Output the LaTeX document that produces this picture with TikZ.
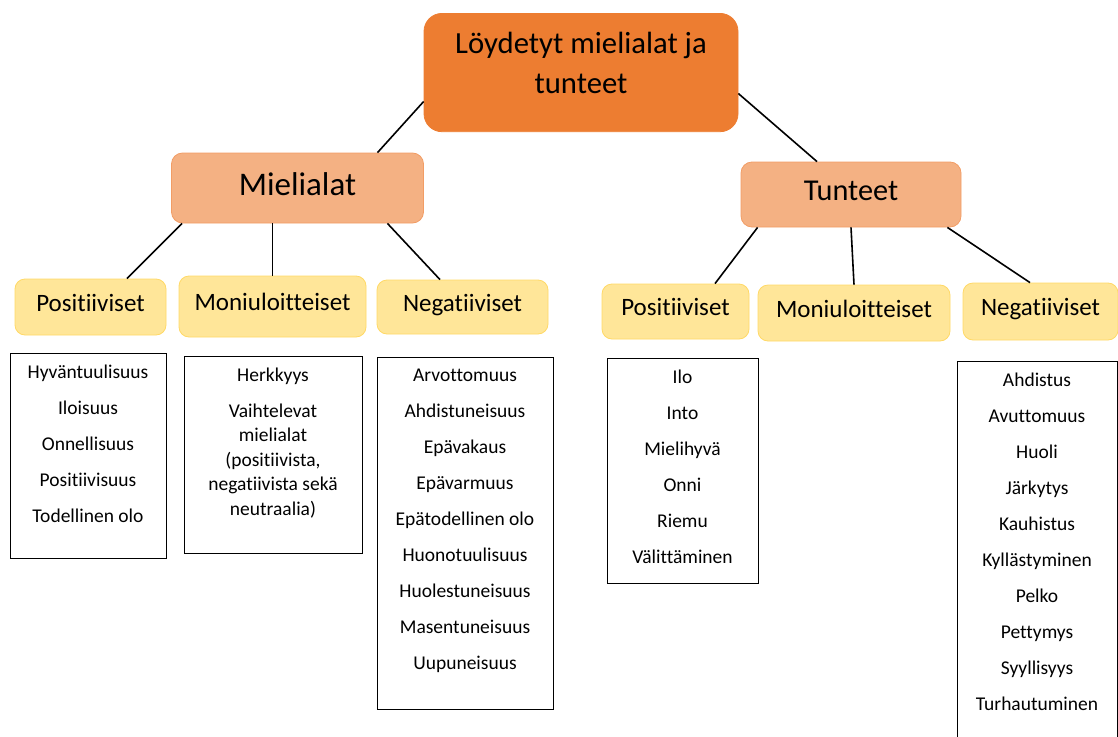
\documentclass[tikz,border=0pt]{standalone}
\usepackage{fontspec}
\setmainfont{Carlito}[Ligatures={NoCommon,NoContextual},Contextuals=NoAlternate]
\usepackage{xcolor}
\usepackage{tikz}
\usetikzlibrary{positioning}
\definecolor{rootorange}{HTML}{ED7D31}
\definecolor{midorange}{HTML}{F4B183}
\definecolor{paleyellow}{HTML}{FFE699}
\definecolor{edgeyellow}{HTML}{FFD966}
\tikzset{
  rootbox/.style ={rounded corners=18pt,draw=rootorange,fill=rootorange,line width=0.8pt,
                   align=center,inner xsep=0pt,inner ysep=19pt},
  midbox/.style  ={rounded corners=11pt,draw=rootorange!75,fill=midorange,line width=0.8pt,
                   inner sep=0pt},
  kindbox/.style ={rounded corners=10pt,draw=edgeyellow,fill=paleyellow,line width=0.8pt,
                   inner sep=0pt,text height=15pt,text depth=7pt,font=\fontsize{25}{30}\selectfont},
  listbox/.style ={draw=black,line width=0.9pt,inner sep=0pt},
  listtext/.style={anchor=north,yshift=-11pt,inner sep=0pt,align=center,
                   font=\fontsize{19.5}{36}\selectfont},
  link/.style    ={line width=1.6pt,draw=black}
}
\begin{document}
\begin{tikzpicture}[x=1pt,y=-1pt]
    \clip (0,0) rectangle (1118,736);
    \node[rootbox,minimum width=314pt,anchor=north,font=\fontsize{30.7}{40}\selectfont] (root) at (581,13)
      {Löydetyt mielialat ja\\tunteet\rule[-19pt]{0pt}{0pt}};
    \node[midbox,minimum width=252pt,minimum height=70pt,text height=20pt,text depth=6pt,
          font=\fontsize{33}{40}\selectfont] (miel) at (297.5,188) {Mielialat};
    \node[midbox,minimum width=220pt,minimum height=65pt,text height=18pt,text depth=7pt,
          font=\fontsize{30.3}{36}\selectfont] (tunt) at (851,194.5) {Tunteet};
    % mielialat
    \node[kindbox,minimum width=151pt,minimum height=56pt] (mpos) at (90.5,307) {Positiiviset};
    \node[kindbox,minimum width=187pt,minimum height=61pt] (mmon) at (272.5,306.5) {Moniuloitteiset};
    \node[kindbox,minimum width=171pt,minimum height=54pt] (mneg) at (462.5,307) {Negatiiviset};
    % tunteet
    \node[kindbox,minimum width=147pt,minimum height=55pt] (tpos) at (675.5,311.5) {Positiiviset};
    \node[kindbox,minimum width=192pt,minimum height=56pt] (tmon) at (854,313) {Moniuloitteiset};
    \node[kindbox,minimum width=155pt,minimum height=57pt] (tneg) at (1040.5,311.5) {Negatiiviset};
    \draw[link] ([yshift=-29pt]root.west) -- ([xshift=80pt]miel.north);
    \draw[link] ([yshift=-21pt]root.east) -- ([xshift=-34pt]tunt.north);
    \draw[link] ([xshift=11pt]miel.south west) -- ([xshift=36.5pt]mpos.north);
    \draw[link] (mmon.north |- miel.south) -- (mmon.north);
    \draw[link] ([xshift=-36.5pt]miel.south east) -- ([xshift=-22.5pt]mneg.north);
    \draw[link] ([xshift=17pt]tunt.south west) -- ([xshift=39.5pt]tpos.north);
    \draw[link] (tunt.south) -- (tmon.north);
    \draw[link] ([xshift=-14pt]tunt.south east) -- ([xshift=-10.5pt]tneg.north);
    % lists
    \node[listbox,minimum width=156pt,minimum height=205pt,below=18pt of mpos,xshift=-2.5pt,
          label={[listtext]north:{Hyväntuulisuus\\Iloisuus\\Onnellisuus\\Positiivisuus\\Todellinen olo}}] (mposl) {};
    \node[listbox,minimum width=178pt,minimum height=197pt,below=19pt of mmon,xshift=0.5pt,
          label={[listtext]north:{Herkkyys\\Vaihtelevat\\[-11.5pt]mielialat\\[-11.5pt](positiivista,\\[-11.5pt]negatiivista sekä\\[-11.5pt]neutraalia)}}] (mmonl) {};
    \node[listbox,minimum width=176pt,minimum height=352pt,below=23pt of mneg,xshift=2.5pt,
          label={[listtext]north:{Arvottomuus\\Ahdistuneisuus\\Epävakaus\\Epävarmuus\\Epätodellinen olo\\Huonotuulisuus\\Huolestuneisuus\\Masentuneisuus\\Uupuneisuus}}] (mnegl) {};
    \node[listbox,minimum width=151pt,minimum height=225pt,below=19pt of tpos,xshift=7pt,
          label={[listtext]north:{Ilo\\Into\\Mielihyvä\\Onni\\Riemu\\Välittäminen}}] (tposl) {};
    \node[listbox,minimum width=160pt,minimum height=385pt,below=21pt of tneg,xshift=-3.5pt,
          label={[listtext]north:{Ahdistus\\Avuttomuus\\Huoli\\Järkytys\\Kauhistus\\Kyllästyminen\\Pelko\\Pettymys\\Syyllisyys\\Turhautuminen}}] (tnegl) {};
  \end{tikzpicture}
\end{document}
